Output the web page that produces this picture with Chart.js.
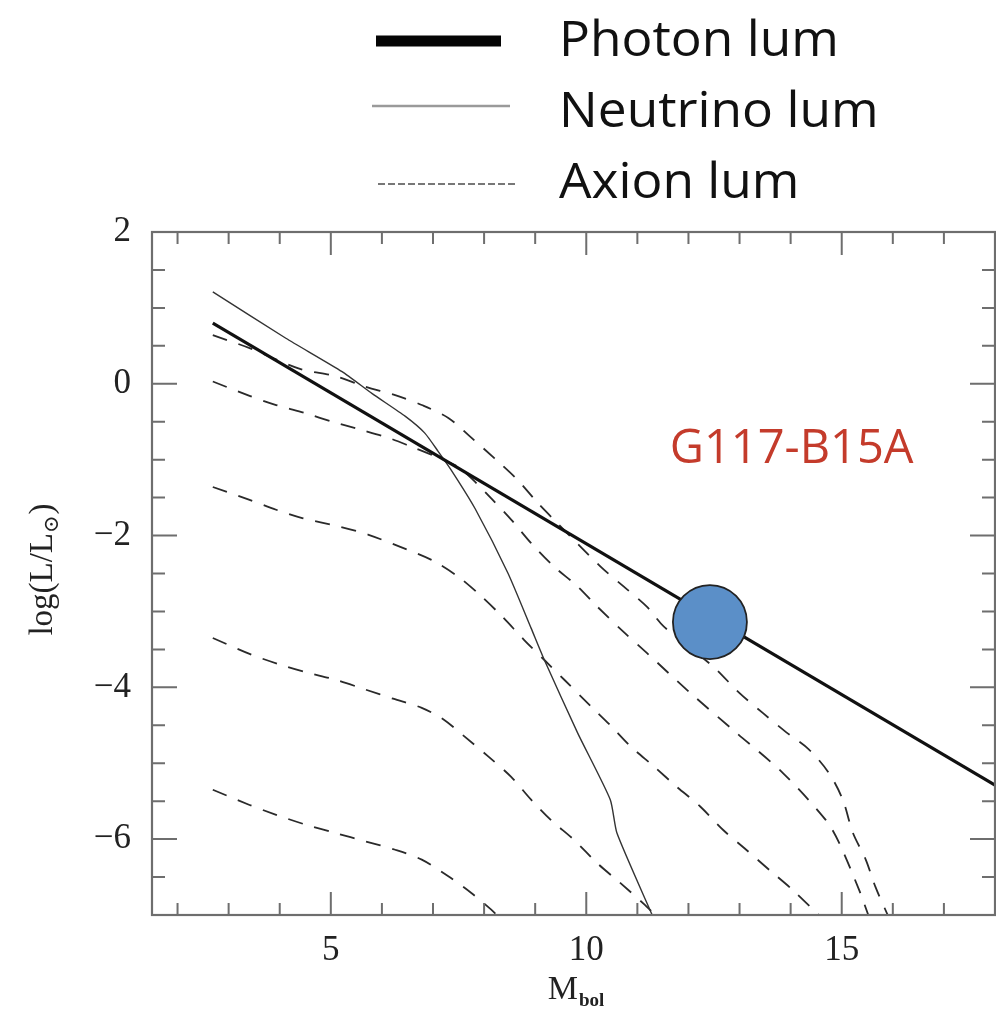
<!DOCTYPE html>
<html>
<head>
<meta charset="utf-8">
<script src="https://cdn.jsdelivr.net/npm/chart.js@4.4.1/dist/chart.umd.min.js"></script>
<style>
  html, body { margin: 0; padding: 0; background: #fff; overflow: hidden; }
  #wrap { width: 996px; height: 1018px; position: relative; }
</style>
</head>
<body>
<div id="wrap"><canvas id="c" width="996" height="1018"></canvas></div>
<script>
// ---- data ----
const xTickLabels = [5, 10, 15];
const yTickLabels = [2, 0, -2, -4, -6];

const photonX = [2.69, 18.0];
const photonY = [0.80, -5.29];

const neutrinoX = [2.69, 4.12, 5.22, 5.81, 6.46, 6.84, 7.10, 7.36, 7.82, 8.47, 8.92, 9.18, 9.83, 10.47, 10.60, 11.29];
const neutrinoY = [1.21, 0.60, 0.16, -0.13, -0.43, -0.65, -0.89, -1.14, -1.64, -2.50, -3.22, -3.64, -4.60, -5.48, -5.92, -7.0];

const axionAX = [2.69, 3.41, 4.38, 5.09, 5.68, 6.26, 6.78, 7.30, 7.75, 8.20, 8.66, 9.05, 9.44, 10.28, 10.73, 11.19, 11.52, 12.49, 12.99, 13.46, 13.91, 14.36, 14.75, 15.02, 15.22, 15.47, 15.66, 15.90];
const axionAY = [0.64, 0.47, 0.20, 0.10, -0.04, -0.15, -0.28, -0.45, -0.71, -0.98, -1.27, -1.57, -1.84, -2.41, -2.67, -2.94, -3.20, -3.73, -4.07, -4.34, -4.59, -4.82, -5.13, -5.48, -5.92, -6.27, -6.63, -7.0];

const axionBX = [2.69, 3.41, 3.93, 4.51, 5.03, 5.61, 6.16, 6.58, 7.10, 7.50, 7.82, 8.14, 8.53, 8.92, 9.37, 9.83, 10.22, 10.73, 11.19, 12.03, 12.94, 13.85, 14.69, 14.95, 15.34, 15.52];
const axionBY = [0.03, -0.16, -0.28, -0.39, -0.50, -0.61, -0.72, -0.83, -0.97, -1.10, -1.29, -1.51, -1.79, -2.10, -2.41, -2.67, -2.94, -3.27, -3.55, -4.07, -4.60, -5.13, -5.75, -6.05, -6.67, -7.0];

const axionCX = [2.69, 3.41, 3.93, 4.44, 5.16, 5.74, 6.36, 6.97, 7.49, 7.88, 8.33, 8.79, 9.18, 9.57, 10.09, 10.47, 10.87, 11.32, 11.77, 12.23, 12.68, 13.13, 13.59, 14.04, 14.55];
const axionCY = [-1.36, -1.53, -1.66, -1.77, -1.88, -1.99, -2.15, -2.32, -2.54, -2.76, -3.05, -3.38, -3.64, -3.90, -4.25, -4.50, -4.78, -5.04, -5.31, -5.57, -5.88, -6.14, -6.41, -6.67, -7.0];

const axionDX = [2.69, 3.41, 3.96, 4.51, 5.09, 5.68, 6.22, 6.78, 7.20, 7.62, 8.08, 8.53, 8.92, 9.31, 9.76, 10.22, 10.67, 11.12, 11.35];
const axionDY = [-3.35, -3.56, -3.69, -3.80, -3.90, -4.03, -4.15, -4.27, -4.42, -4.65, -4.91, -5.18, -5.48, -5.75, -6.01, -6.32, -6.58, -6.85, -7.0];

const axionEX = [2.69, 3.41, 3.93, 4.51, 5.09, 5.68, 6.26, 6.78, 7.30, 7.75, 8.14, 8.25];
const axionEY = [-5.35, -5.55, -5.68, -5.81, -5.92, -6.03, -6.14, -6.27, -6.49, -6.71, -6.93, -7.0];

const starX = [12.42];
const starY = [-3.14];
const starName = 'G117-B15A';

const legendLabels = ['Photon lum', 'Neutrino lum', 'Axion lum'];

// ---- helpers ----
const pts = (xs, ys) => xs.map((x, i) => ({ x: x, y: ys[i] }));
const fmt = v => (v < 0 ? '\u2212' + Math.abs(v) : String(v));

const axionStyle = {
  showLine: true, pointRadius: 0, borderColor: '#2a2a2a', borderWidth: 1.8,
  borderDash: [15, 12], fill: false, tension: 0.3
};

const serif = '"Liberation Serif", "DejaVu Serif", serif';
const sans = '"Open Sans", "Noto Sans", sans-serif';

const decor = {
  id: 'decor',
  afterDatasetsDraw(chart) {
    const { ctx, chartArea: a, scales } = chart;
    const xs = scales.x, ys = scales.y;
    ctx.save();
    ctx.strokeStyle = '#6e6e6e';
    ctx.lineWidth = 2.2;
    ctx.strokeRect(a.left, a.top, a.right - a.left, a.bottom - a.top);
    ctx.lineWidth = 2;
    for (let v = 2; v <= 18; v += 1) {
      const px = xs.getPixelForValue(v);
      const len = (v % 5 === 0) ? 23 : 12;
      ctx.beginPath();
      ctx.moveTo(px, a.bottom); ctx.lineTo(px, a.bottom - len);
      ctx.moveTo(px, a.top); ctx.lineTo(px, a.top + len);
      ctx.stroke();
    }
    for (let k = -14; k <= 4; k += 1) {
      const v = k / 2;
      const py = ys.getPixelForValue(v);
      const len = (k % 4 === 0) ? 25 : 13;
      ctx.beginPath();
      ctx.moveTo(a.left, py); ctx.lineTo(a.left + len, py);
      ctx.moveTo(a.right, py); ctx.lineTo(a.right - len, py);
      ctx.stroke();
    }
    ctx.restore();
  },
  afterDraw(chart) {
    const { ctx, chartArea: a, scales } = chart;
    ctx.save();
    // star label
    ctx.fillStyle = '#c43b2b';
    ctx.font = '47px ' + sans;
    ctx.textAlign = 'center';
    ctx.textBaseline = 'alphabetic';
    ctx.fillText(starName, scales.x.getPixelForValue(14.02), scales.y.getPixelForValue(-1.04));

    // x title: M_bol
    ctx.fillStyle = '#222';
    ctx.textAlign = 'left';
    ctx.font = '34px ' + serif;
    const mW = ctx.measureText('M').width;
    ctx.font = 'bold 19px ' + serif;
    const bW = ctx.measureText('bol').width;
    const tx = (a.left + a.right) / 2 - (mW + bW) / 2 + 2;
    ctx.font = '34px ' + serif;
    ctx.fillText('M', tx, 999);
    ctx.font = 'bold 19px ' + serif;
    ctx.fillText('bol', tx + mW + 1, 1006);

    // y title: log(L/L_sun)
    ctx.translate(52, (a.top + a.bottom) / 2 - 4);
    ctx.rotate(-Math.PI / 2);
    ctx.font = '33px ' + serif;
    const p1 = 'log(L/L';
    const w1 = ctx.measureText(p1).width;
    ctx.font = '21px ' + serif;
    const ws = ctx.measureText('\u2299').width;
    ctx.font = '33px ' + serif;
    let sx = -(w1 + ws + 12) / 2;
    ctx.fillText(p1, sx, 0);
    ctx.font = '21px ' + serif;
    ctx.fillText('\u2299', sx + w1, 6);
    ctx.font = '33px ' + serif;
    ctx.fillText(')', sx + w1 + ws + 1, 0);
    ctx.restore();

    // legend
    ctx.save();
    ctx.lineCap = 'butt';
    ctx.strokeStyle = '#050505'; ctx.lineWidth = 11;
    ctx.beginPath(); ctx.moveTo(376, 41); ctx.lineTo(501, 41); ctx.stroke();
    ctx.strokeStyle = '#9a9a9a'; ctx.lineWidth = 2.5;
    ctx.beginPath(); ctx.moveTo(372, 106); ctx.lineTo(510, 106); ctx.stroke();
    ctx.strokeStyle = '#777'; ctx.lineWidth = 1.8; ctx.setLineDash([7, 3]);
    ctx.beginPath(); ctx.moveTo(378, 184); ctx.lineTo(516, 184); ctx.stroke();
    ctx.setLineDash([]);
    ctx.fillStyle = '#111';
    ctx.font = '49px ' + sans;
    ctx.textAlign = 'left';
    ctx.textBaseline = 'alphabetic';
    const rows = [56, 127, 198];
    legendLabels.forEach((t, i) => {
      ctx.save();
      ctx.translate(559, rows[i]);
      ctx.scale(1.05, 1);
      ctx.fillText(t, 0, 0);
      ctx.restore();
    });
    ctx.restore();
  }
};

new Chart(document.getElementById('c'), {
  type: 'scatter',
  data: {
    datasets: [
      { label: starName, data: pts(starX, starY), pointRadius: 37, pointHoverRadius: 37,
        backgroundColor: '#5b8fc8', borderColor: '#222', borderWidth: 1.8, showLine: false },
      { label: legendLabels[0], data: pts(photonX, photonY), showLine: true, pointRadius: 0,
        borderColor: '#111', borderWidth: 3.2 },
      { label: legendLabels[1], data: pts(neutrinoX, neutrinoY), showLine: true, pointRadius: 0,
        borderColor: '#333', borderWidth: 1.4, tension: 0.2 },
      Object.assign({ label: 'Axion A', data: pts(axionAX, axionAY) }, axionStyle),
      Object.assign({ label: 'Axion B', data: pts(axionBX, axionBY) }, axionStyle),
      Object.assign({ label: 'Axion C', data: pts(axionCX, axionCY) }, axionStyle),
      Object.assign({ label: 'Axion D', data: pts(axionDX, axionDY) }, axionStyle),
      Object.assign({ label: 'Axion E', data: pts(axionEX, axionEY) }, axionStyle)
    ]
  },
  options: {
    responsive: false,
    animation: false,
    events: [],
    layout: { autoPadding: false, padding: { top: 232, right: 1, left: 0, bottom: 0 } },
    plugins: { legend: { display: false }, tooltip: { enabled: false } },
    scales: {
      x: {
        type: 'linear', min: 1.5, max: 18,
        grid: { display: false, drawTicks: false },
        border: { display: false },
        afterBuildTicks: s => { s.ticks = xTickLabels.map(v => ({ value: v })); },
        afterFit: s => { s.height = 103; s.paddingLeft = 0; s.paddingRight = 0; },
        ticks: { color: '#222', padding: 15, font: { family: serif, size: 35 }, callback: v => fmt(v), maxRotation: 0 }
      },
      y: {
        type: 'linear', min: -7, max: 2,
        grid: { display: false, drawTicks: false },
        border: { display: false },
        afterBuildTicks: s => { s.ticks = yTickLabels.map(v => ({ value: v })); },
        afterFit: s => { s.width = 152; s.paddingTop = 0; s.paddingBottom = 0; },
        ticks: { color: '#222', padding: 21, font: { family: serif, size: 35 }, callback: v => fmt(v) }
      }
    }
  },
  plugins: [decor]
});
</script>
</body>
</html>
